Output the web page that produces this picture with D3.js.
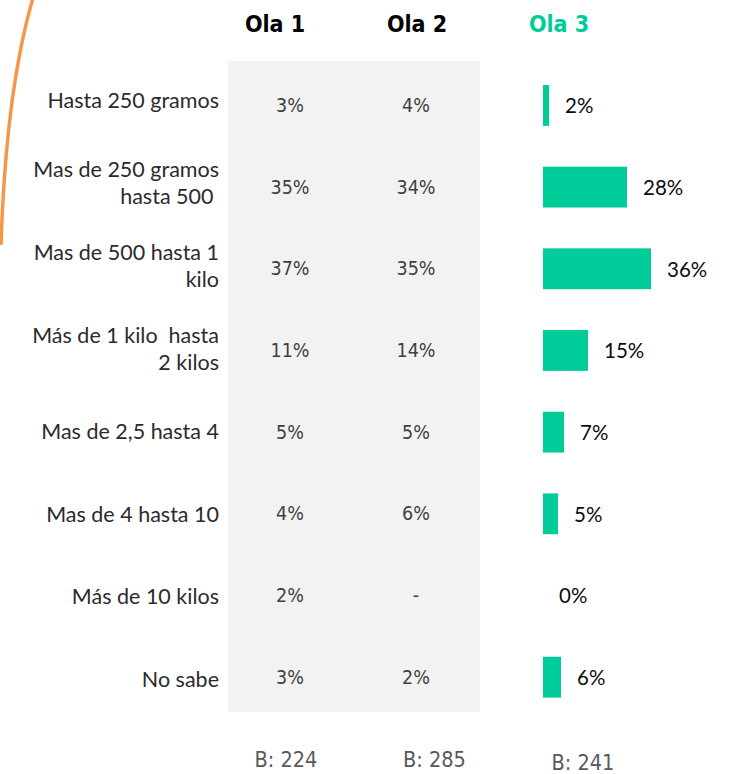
<!DOCTYPE html>
<html>
<head>
<meta charset="utf-8">
<script src="https://cdn.jsdelivr.net/npm/d3@7"></script>
<style>
  body { margin: 0; background: #fff; }
  svg text { white-space: pre; }
</style>
</head>
<body>
<script>
var WIDTH = 730, HEIGHT = 774;

// data
var categories = [
  ["Hasta 250 gramos"],
  ["Mas de 250 gramos", "hasta 500 "],
  ["Mas de 500 hasta 1", "kilo"],
  ["Más de 1 kilo  hasta", "2 kilos"],
  ["Mas de 2,5 hasta 4"],
  ["Mas de 4 hasta 10"],
  ["Más de 10 kilos"],
  ["No sabe"]
];
var waves = ["Ola 1", "Ola 2", "Ola 3"];
var ola1 = [3, 35, 37, 11, 5, 4, 2, 3];
var ola2 = [4, 34, 35, 14, 5, 6, null, 2];
var ola3 = [2, 28, 36, 15, 7, 5, 0, 6];
var bases = [224, 285, 241];

var GREEN = "#00cc99";

var svg = d3.select("body").append("svg")
  .attr("width", WIDTH)
  .attr("height", HEIGHT);

var idx = d3.range(categories.length);

var _yScale = d3.scaleBand().domain(idx).range([64.6, 718]).paddingInner(0.5).paddingOuter(0.25);
var _labelY = d3.scalePoint().domain(idx).range([108, 687]);
var _xScale = d3.scaleLinear().domain([0, 10]).range([543, 573]);
var colX = d3.scalePoint().domain(["Ola 1", "Ola 2"]).range([290, 416]);
var headX = d3.scalePoint().domain(waves).range([275, 559]);
var baseX = d3.scalePoint().domain(waves).range([286, 583]);

var mid = function(i){ return _yScale(i) + _yScale.bandwidth() / 2; };

// decorative orange arc, top-left
svg.append("path")
  .attr("d", "M33,-2 Q6,90 1,245")
  .attr("fill", "none")
  .attr("stroke", "#f79646")
  .attr("stroke-width", 3.5);

// grey panel behind Ola 1 / Ola 2
svg.append("rect")
  .attr("x", 228).attr("width", 252)
  .attr("y", _yScale.range()[0] - 3.6)
  .attr("height", _yScale.range()[1] - _yScale.range()[0] - 2.4)
  .attr("fill", "#f2f2f2");

// headers
svg.append("g").selectAll("text").data(waves).enter().append("text")
  .attr("x", function(d){ return headX(d); })
  .attr("y", 32)
  .attr("text-anchor", "middle")
  .attr("font-family", "'DejaVu Sans Condensed', 'DejaVu Sans', sans-serif")
  .attr("font-weight", "bold")
  .attr("font-size", 23)
  .attr("fill", function(d, i){ return i == 2 ? GREEN : "#000"; })
  .text(function(d){ return d; });

// category labels
var lab = svg.append("g").selectAll("text").data(categories).enter().append("text")
  .attr("text-anchor", "end")
  .attr("font-family", "Lato, 'Open Sans', sans-serif")
  .attr("font-size", 21.5)
  .attr("fill", "#2b2b2b")
  .attr("transform", function(d, i){ return "translate(219," + (_labelY(i) - (d.length - 1) * 13.5) + ")"; });

lab.selectAll("tspan").data(function(d){ return d; }).enter().append("tspan")
  .attr("x", 0)
  .attr("dy", function(d, j){ return j ? 27 : 0; })
  .text(function(d){ return d; });

// Ola 1 / Ola 2 values
[ola1, ola2].forEach(function(arr, k){
  svg.append("g").selectAll("text").data(arr).enter().append("text")
    .attr("x", colX(waves[k]))
    .attr("y", function(d, i){ return mid(i) + 6.5; })
    .attr("text-anchor", "middle")
    .attr("font-family", "'DejaVu Sans Condensed', 'DejaVu Sans', sans-serif")
    .attr("font-size", 19.5)
    .attr("fill", "#404040")
    .text(function(d){ return d == null ? "-" : d + "%"; });
});

// Ola 3 bars
svg.append("g").selectAll("rect").data(ola3).enter().append("rect")
  .attr("x", _xScale(0))
  .attr("y", function(d, i){ return _yScale(i); })
  .attr("width", function(d){ return _xScale(d) - _xScale(0); })
  .attr("height", _yScale.bandwidth())
  .attr("fill", GREEN);

svg.append("g").selectAll("text").data(ola3).enter().append("text")
  .attr("x", function(d){ return _xScale(d) + 16; })
  .attr("y", function(d, i){ return mid(i) + 8; })
  .attr("font-family", "Lato, 'Open Sans', sans-serif")
  .attr("font-size", 20.5)
  .attr("fill", "#0d0d0d")
  .text(function(d){ return d + "%"; });

// bases
svg.append("g").selectAll("text").data(bases).enter().append("text")
  .attr("x", function(d, i){ return baseX(waves[i]); })
  .attr("y", function(d, i){ return i == 2 ? 769.5 : 767; })
  .attr("text-anchor", "middle")
  .attr("font-family", "'DejaVu Sans Condensed', 'DejaVu Sans', sans-serif")
  .attr("font-size", 21.5)
  .attr("fill", "#595959")
  .text(function(d){ return "B: " + d; });
</script>
</body>
</html>
